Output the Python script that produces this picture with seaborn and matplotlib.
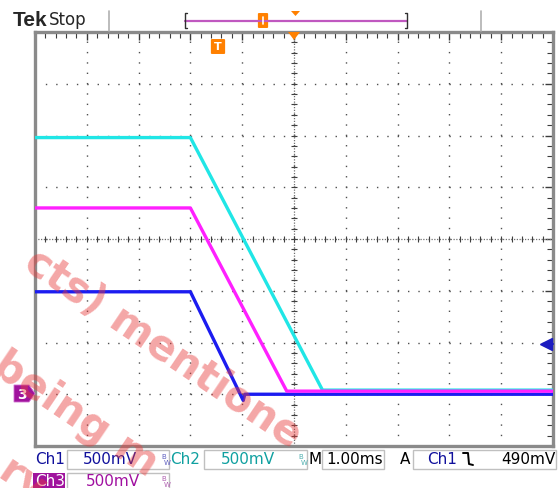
import numpy as np
import pandas as pd
import seaborn as sns
import matplotlib.pyplot as plt
from matplotlib.patches import Rectangle, Polygon, FancyBboxPatch
from matplotlib.lines import Line2D

# ---- waveform breakpoints (time in ms, volts) ----
ch1_t = [-5.0, -2.0, -0.98, -0.95, 5.0]
ch1_v = [0.99, 0.99, -0.06, 0.0, 0.0]
ch2_t = [-5.0, -2.0, 0.55, 5.0]
ch2_v = [2.48, 2.48, 0.04, 0.04]
ch3_t = [-5.0, -2.0, -0.14, 5.0]
ch3_v = [1.80, 1.80, 0.03, 0.03]

chan_names = ["Ch1", "Ch2", "Ch3"]
chan_colors = {"Ch1": "#1c1cf0", "Ch2": "#20e6e6", "Ch3": "#ff20ff"}
text_colors = {"Ch1": "#10109c", "Ch2": "#10a0a0", "Ch3": "#a010a0"}
scale_labels = ["500mV", "500mV", "500mV"]
time_label = "1.00ms"
trig_chan = "Ch1"
trig_label = "490mV"
trig_level = 0.49   # V
volts_div = 0.5
ms_div = 1.0

df = pd.concat([
    pd.DataFrame({"t": ch1_t, "v": ch1_v, "ch": "Ch1"}),
    pd.DataFrame({"t": ch2_t, "v": ch2_v, "ch": "Ch2"}),
    pd.DataFrame({"t": ch3_t, "v": ch3_v, "ch": "Ch3"}),
])

sns.set_style("white")
plt.rcParams['font.family'] = ['DejaVu Sans']

W, H = 560, 489
fig = plt.figure(figsize=(W / 100, H / 100), dpi=100)
fig.patch.set_facecolor("white")


def fx(x):
    return x / W


def fy(y):
    return 1 - y / H


ax = fig.add_axes([fx(35), fy(447), 518 / W, 414 / H])
ax.set_xlim(-5 * ms_div, 5 * ms_div)
ax.set_ylim(-1 * volts_div, 7 * volts_div)
ax.set_xticks(np.arange(-5, 5.01, 1) * ms_div)
ax.set_yticks(np.arange(-1, 7.01, 1) * volts_div)
ax.set_xticks(np.arange(-5, 5.01, 0.2) * ms_div, minor=True)
ax.set_yticks(np.arange(-1, 7.01, 0.2) * volts_div, minor=True)
ax.tick_params(which="both", direction="in", top=True, right=True,
               labelbottom=False, labelleft=False, color="#3c3c3c")
ax.tick_params(which="major", length=6, width=1.0)
ax.tick_params(which="minor", length=4, width=0.8)
for s in ax.spines.values():
    s.set_color("#8a8a8a")
    s.set_linewidth(2.4)

# dotted graticule
ax.grid(True, which="major", color="#505050", lw=1.0, linestyle=(0, (1, 6.45)))
ax.grid(False, which="minor")
ax.axvline(0, color="#707070", lw=0.9, ls=(0, (1, 1.2)), zorder=1)
ax.axhline(3 * volts_div, color="#707070", lw=0.9, ls=(0, (1, 1.2)), zorder=1)
cx = np.arange(-5, 5.01, 0.2) * ms_div
cy = np.arange(-1, 7.01, 0.2) * volts_div
ax.plot(cx, np.full(len(cx), 3 * volts_div), ls="none", marker="|", ms=4,
        mew=0.8, color="#404040", zorder=1)
ax.plot(np.zeros(len(cy)), cy, ls="none", marker="_", ms=4,
        mew=0.8, color="#404040", zorder=1)

sns.lineplot(data=df, x="t", y="v", hue="ch", hue_order=chan_names,
             palette=chan_colors, estimator=None, sort=False, lw=2.4,
             legend=False, ax=ax, zorder=3)
ax.set_xlabel("")
ax.set_ylabel("")

# trigger level arrow (right edge)
ax.plot([4.86 * ms_div], [trig_level], marker="<", ms=8, color="#1c1cc0",
        clip_on=False, zorder=4)
ax.plot([4.86 * ms_div, 5 * ms_div], [trig_level, trig_level], color="#1c1cc0",
        lw=1.5, clip_on=False, zorder=4)

# ground marker for Ch3
fig.patches.append(Polygon([(fx(14), fy(386)), (fx(29), fy(386)), (fx(35), fy(394.5)),
                            (fx(29), fy(403)), (fx(14), fy(403))],
                           closed=True, facecolor="#a0139d", edgecolor="#d070d0", lw=0.6,
                           transform=fig.transFigure))
fig.text(fx(22), fy(395), "3", color="white", fontsize=10, fontweight="bold",
         ha="center", va="center")

# orange trigger markers
fig.patches.append(Polygon([(fx(288), fy(33)), (fx(300), fy(33)), (fx(294), fy(41))],
                           closed=True, facecolor="#ff8000", edgecolor="none",
                           transform=fig.transFigure, zorder=5))
fig.patches.append(FancyBboxPatch((fx(212), fy(54)), 12 / W, 13 / H,
                                  boxstyle="round,pad=0.002", facecolor="#ff8000",
                                  edgecolor="none", transform=fig.transFigure))
fig.text(fx(218), fy(47.5), "T", color="white", fontsize=8, fontweight="bold",
         ha="center", va="center")

# ---- top status bar ----
fig.text(fx(13), fy(20), "Tek", fontsize=15, fontweight="bold",
         family="Liberation Sans", va="center", ha="left")
fig.text(fx(49), fy(20), "Stop", fontsize=12, va="center", ha="left")
for xs in (109, 481):
    fig.lines.append(Line2D([fx(xs), fx(xs)], [fy(12), fy(32)], color="#b0b0b0",
                            lw=1.2, transform=fig.transFigure))
fig.lines.append(Line2D([fx(185), fx(407)], [fy(21.5), fy(21.5)], color="#c058c0",
                        lw=1.6, transform=fig.transFigure))
fig.lines.append(Line2D([fx(187), fx(185), fx(185), fx(187)],
                        [fy(14), fy(14), fy(29), fy(29)], color="#303030",
                        lw=1.0, transform=fig.transFigure))
fig.lines.append(Line2D([fx(405), fx(407), fx(407), fx(405)],
                        [fy(14), fy(14), fy(29), fy(29)], color="#303030",
                        lw=1.0, transform=fig.transFigure))
fig.patches.append(FancyBboxPatch((fx(259), fy(28)), 8 / W, 13 / H,
                                  boxstyle="round,pad=0.002", facecolor="#ff8000",
                                  edgecolor="none", transform=fig.transFigure))
fig.lines.append(Line2D([fx(263), fx(263)], [fy(18), fy(25)], color="white",
                        lw=1.2, transform=fig.transFigure))
fig.patches.append(Polygon([(fx(291), fy(12)), (fx(300), fy(12)), (fx(295.5), fy(17))],
                           closed=True, facecolor="#ff8000", edgecolor="none",
                           transform=fig.transFigure))

# ---- bottom readouts ----
def box(x0, y0, x1, y1):
    fig.patches.append(Rectangle((fx(x0), fy(y1)), (x1 - x0) / W, (y1 - y0) / H,
                                 facecolor="white", edgecolor="#c0c0c0", lw=1.0,
                                 transform=fig.transFigure))


def bw(x, y, c):
    fig.text(fx(x), fy(y - 3), "B", fontsize=5, color=c, ha="left", va="center")
    fig.text(fx(x + 3), fy(y + 3), "W", fontsize=5, color=c, ha="left", va="center")


fs = 11
r1, r2 = 460, 482
fig.text(fx(35), fy(r1), "Ch1", color=text_colors["Ch1"], fontsize=fs, va="center")
box(67, 451, 169, 470)
fig.text(fx(83), fy(r1), scale_labels[0], color=text_colors["Ch1"], fontsize=fs, va="center")
bw(161, r1, "#6060c0")
fig.text(fx(170), fy(r1), "Ch2", color=text_colors["Ch2"], fontsize=fs, va="center")
box(204, 451, 307, 470)
fig.text(fx(221), fy(r1), scale_labels[1], color=text_colors["Ch2"], fontsize=fs, va="center")
bw(298, r1, "#50b0b0")
fig.text(fx(308), fy(r1), "M", color="black", fontsize=fs, va="center")
box(322, 451, 384, 470)
fig.text(fx(326), fy(r1), time_label, color="black", fontsize=fs, va="center")
fig.text(fx(400), fy(r1), "A", color="black", fontsize=fs, va="center")
box(413, 451, 556, 470)
fig.text(fx(427), fy(r1), trig_chan, color=text_colors["Ch1"], fontsize=fs, va="center")
fig.lines.append(Line2D([fx(463), fx(468), fx(469), fx(473)],
                        [fy(454), fy(454), fy(465), fy(466)], color="black",
                        lw=1.4, transform=fig.transFigure))
fig.text(fx(555), fy(r1), trig_label, color="black", fontsize=fs, va="center", ha="right")

fig.patches.append(Rectangle((fx(33), fy(490)), 32 / W, 16 / H, facecolor="#a0139d",
                             edgecolor="none", transform=fig.transFigure))
fig.text(fx(35), fy(r2), "Ch3", color="white", fontsize=fs, va="center")
box(67, 474, 169, 490)
fig.text(fx(86), fy(r2), scale_labels[2], color=text_colors["Ch3"], fontsize=fs, va="center")
bw(161, r2, "#b060b0")

# watermark
wm = dict(color="#e83c3c", alpha=0.45, fontsize=30, fontweight="bold", rotation=-34,
          rotation_mode="anchor", ha="left", va="baseline", zorder=10)
fig.text(fx(22), fy(268), "cts) mentione", **wm)
fig.text(fx(-10), fy(372), "being m", **wm)
fig.text(fx(-4), fy(478), "ry", **wm)

fig.savefig("out.png", dpi=100)
